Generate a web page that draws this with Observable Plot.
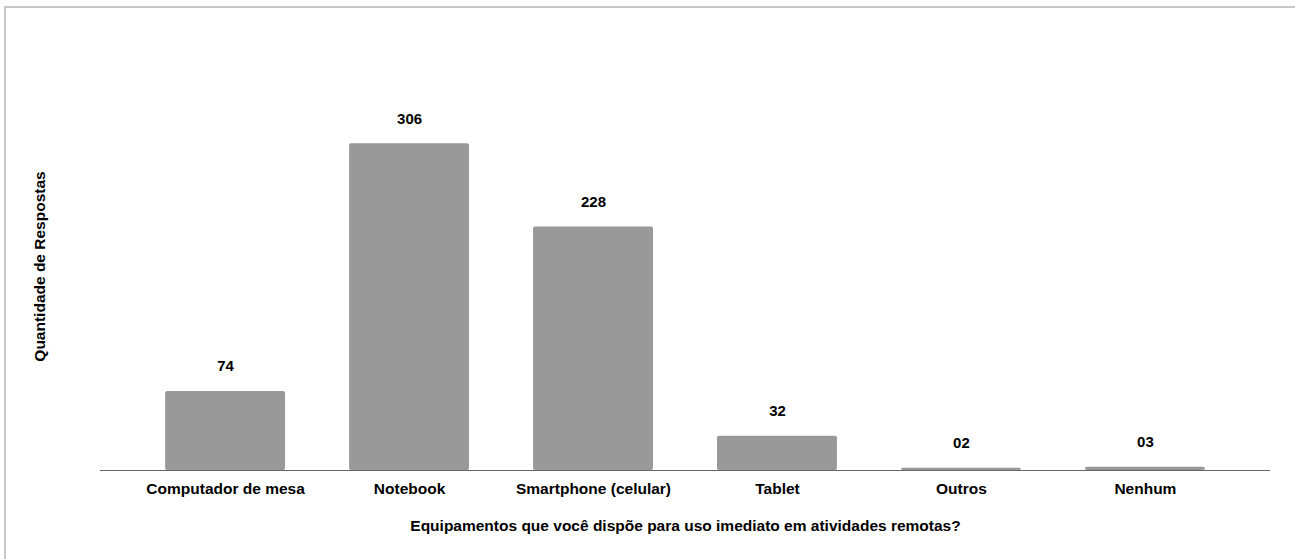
<!DOCTYPE html>
<html>
<head>
<meta charset="utf-8">
<script src="https://cdn.jsdelivr.net/npm/d3@7"></script>
<script src="https://cdn.jsdelivr.net/npm/@observablehq/plot@0.6"></script>
<style>
  html, body { margin: 0; padding: 0; background: #fff; }
  #frame { position: absolute; left: 4px; top: 6px; width: 1291px; height: 553px;
           border-top: 2px solid #c8c8c8; border-left: 2px solid #c8c8c8; box-sizing: border-box; }
  #chart { position: absolute; left: 0; top: 0; }
</style>
</head>
<body>
<div id="frame"></div>
<div id="chart"></div>
<script>
const categories = ["Computador de mesa", "Notebook", "Smartphone (celular)", "Tablet", "Outros", "Nenhum"];
const values = [74, 306, 228, 32, 2, 3];
const valueLabels = ["74", "306", "228", "32", "02", "03"];
const xTitle = "Equipamentos que você dispõe para uso imediato em atividades remotas?";
const yTitle = "Quantidade de Respostas";

const data = categories.map((c, i) => ({category: c, value: values[i], label: valueLabels[i]}));

const chart = Plot.plot({
  width: 1295,
  height: 559,
  marginLeft: 100,
  marginRight: 25,
  marginTop: 62,
  marginBottom: 89,
  style: {fontFamily: "'Liberation Sans', Arial, sans-serif", fontSize: "15.5px", fontWeight: "bold", color: "#000", background: "transparent"},
  x: {domain: categories, paddingInner: 0.348, paddingOuter: 0.354, round: false},
  y: {domain: [0, 400], range: [470, 43]},
  marks: [
    Plot.barY(data, {x: "category", y: "value", fill: "#999999", rx: 2}),
    Plot.ruleY([0], {stroke: "#666", strokeWidth: 1.2}),
    Plot.text(data, {x: "category", y: "value", text: "label", dy: -25, fontSize: 15, fontWeight: "bold", fill: "#000"}),
    Plot.axisX({tickSize: 0, tickPadding: 12, fontSize: 15.5, fontWeight: "bold", label: xTitle, labelAnchor: "center", labelOffset: 60}),
    Plot.axisY({ticks: [], tickSize: 0, label: yTitle, labelAnchor: "center", labelOffset: 67, labelArrow: "none"})
  ]
});
document.getElementById("chart").append(chart);
</script>
</body>
</html>
